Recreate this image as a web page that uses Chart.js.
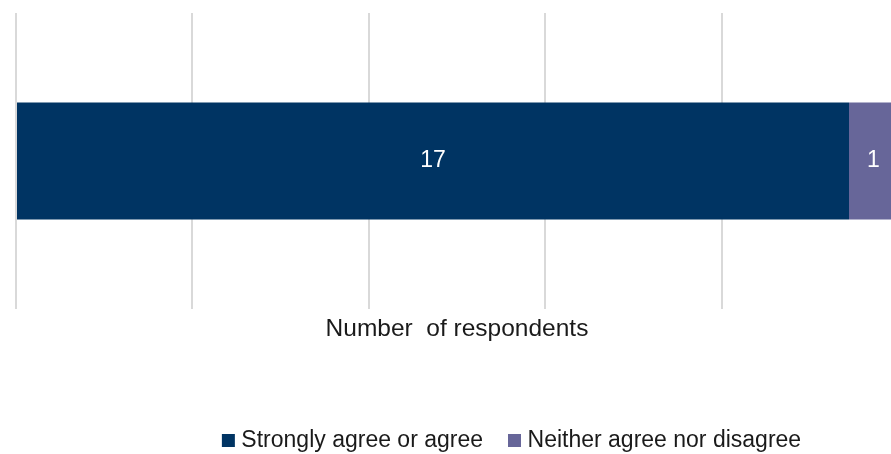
<!DOCTYPE html>
<html>
<head>
<meta charset="utf-8">
<title>Number of respondents</title>
<script src="https://cdn.jsdelivr.net/npm/chart.js@4/dist/chart.umd.min.js"></script>
<style>
  html, body { margin: 0; padding: 0; background: #ffffff; overflow: hidden; }
  #frame { position: relative; width: 891px; height: 454px; overflow: hidden; background: #ffffff; }
  #chart { position: absolute; left: 0; top: 0; }
</style>
</head>
<body>
<div id="frame">
  <canvas id="chart" width="1028" height="462"></canvas>
</div>
<script>
// Survey responses, one stacked bar
const categories = [''];
const seriesNames = ['Strongly agree or agree', 'Neither agree nor disagree'];
const agreeValues = [17];
const neitherValues = [1];
const seriesColors = ['#003463', '#676699'];

// Axis range and gridline positions (number of respondents)
const axisMin = 0;
const axisMax = 18;
const gridValues = [0, 3.6, 7.2, 10.8, 14.4, 18];

const FONT = '"Liberation Sans", Arial, Helvetica, sans-serif';

// White value labels centred inside each bar segment
const segmentLabels = {
  id: 'segmentLabels',
  afterDatasetsDraw(chart) {
    const ctx = chart.ctx;
    ctx.save();
    ctx.font = '23px ' + FONT;
    ctx.fillStyle = '#ffffff';
    ctx.textAlign = 'center';
    ctx.textBaseline = 'middle';
    chart.data.datasets.forEach((ds, di) => {
      const meta = chart.getDatasetMeta(di);
      meta.data.forEach((bar, i) => {
        const v = ds.data[i];
        if (v === null || v === undefined || v === 0) return;
        const cx = (bar.x + bar.base) / 2;
        ctx.fillText(String(v), cx, bar.y);
      });
    });
    ctx.restore();
  }
};

new Chart(document.getElementById('chart'), {
  type: 'bar',
  data: {
    labels: categories,
    datasets: [
      {
        label: seriesNames[0],
        data: agreeValues,
        backgroundColor: seriesColors[0],
        borderWidth: 0
      },
      {
        label: seriesNames[1],
        data: neitherValues,
        backgroundColor: seriesColors[1],
        borderWidth: 0
      }
    ]
  },
  options: {
    indexAxis: 'y',
    responsive: false,
    animation: false,
    devicePixelRatio: 1,
    layout: { padding: { top: 13, left: 16, right: 16, bottom: 0 } },
    datasets: {
      bar: { barPercentage: 0.396, categoryPercentage: 1 }
    },
    scales: {
      x: {
        type: 'linear',
        stacked: true,
        min: axisMin,
        max: axisMax,
        afterBuildTicks(axis) {
          axis.ticks = gridValues.map(v => ({ value: v }));
        },
        ticks: { display: false },
        grid: { display: true, color: '#d9d9d9', lineWidth: 2, drawTicks: false },
        border: { display: false },
        title: {
          display: true,
          text: 'Number  of respondents',
          color: '#1a1a1a',
          font: { family: FONT, size: 24.5 },
          padding: { top: 5.3, bottom: 55.3 }
        }
      },
      y: {
        type: 'category',
        position: 'right',
        stacked: true,
        ticks: { display: false },
        grid: { display: false },
        border: { display: false },
        afterFit(axis) { axis.width = 114; }
      }
    },
    plugins: {
      legend: {
        display: true,
        position: 'bottom',
        align: 'center',
        labels: {
          usePointStyle: true,
          pointStyle: 'rect',
          boxWidth: 3,
          boxHeight: 13,
          padding: 30,
          color: '#1a1a1a',
          font: { family: FONT, size: 23 }
        }
      },
      tooltip: { enabled: false },
      title: { display: false }
    }
  },
  plugins: [segmentLabels]
});
</script>
</body>
</html>
